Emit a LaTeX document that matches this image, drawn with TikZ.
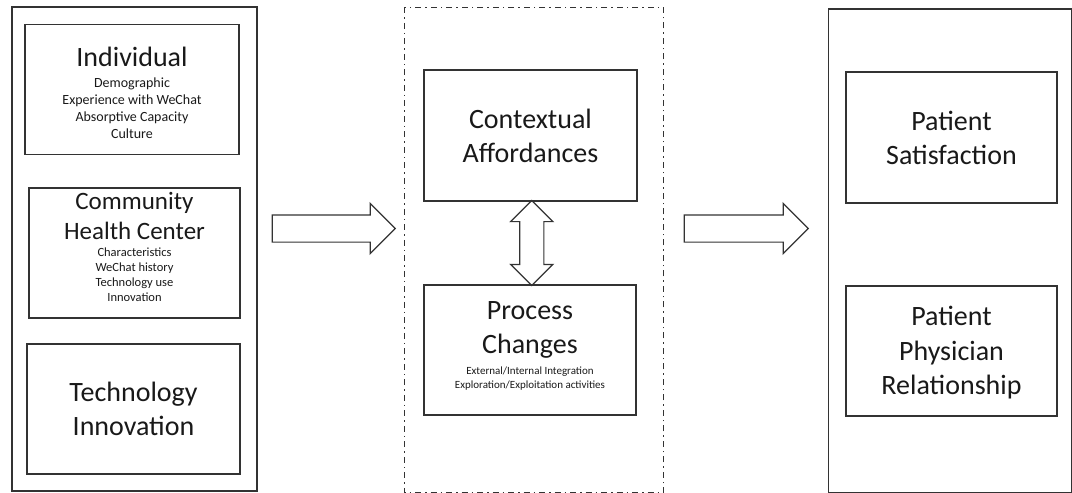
\documentclass[tikz,border=0pt]{standalone}
\usepackage{fontspec}
\setmainfont{Carlito}
\usetikzlibrary{shapes.arrows,calc}
\definecolor{ink}{gray}{0.2}
\newcommand{\bigtxt}{\fontsize{28}{34}\selectfont}
\begin{document}
\begin{tikzpicture}[x=1pt,y=-1pt,
  frame/.style={draw=ink,line width=1.3pt,minimum width=#1,minimum height=484pt},
  box/.style={draw=ink,line width=1.3pt,minimum width=#1,minimum height=130pt,
    text width=#1-8pt,align=flush center,inner sep=0pt,font=\bigtxt,text=black!90},
  box/.default=212pt,
  fat/.style={single arrow,draw=ink,line width=1.2pt,inner sep=0pt,text height=26pt,
    text depth=0pt,minimum height=123pt,single arrow head extend=11.5pt,
    single arrow head indent=0pt}]
\useasboundingbox (0,0) rectangle (1072,493);
\node [frame=245pt] (left) at (134.5,249) {};
\node [frame=258pt,draw=none] (mid) at (534,250) {};
\draw [ink,line width=1pt,dash pattern=on 6pt off 4pt on 1.5pt off 4pt]
  (mid.north west) rectangle (mid.south east);
\node [frame=243pt] (right) at (950,251) {};
\node [box=214pt] (ind) at (132,89.5) {\rule{0pt}{27pt}Individual\par\vspace{4pt}
  {\fontsize{14}{17}\selectfont Demographic\\Experience with WeChat\\Absorptive Capacity\\Culture\par}};
\node [box=211pt] (chc) at (134.5,253) {{\fontsize{25}{30}\selectfont Community\\Health Center\par}
  \vspace{2pt}{\fontsize{12.5}{14.8}\selectfont Characteristics\\WeChat history\\Technology use\\Innovation\par}
  \vspace{12pt}};
\node [box=213pt] (tech) at (133.5,409) {Technology\\Innovation};
\node [box=213pt,minimum height=131pt] (ctx) at (530.5,135.5) {Contextual\\Affordances};
\node [box] (proc) at (530,350) {Process\\Changes\par\vspace{6pt}
  {\fontsize{11}{14.5}\selectfont External/Internal Integration\\Exploration/Exploitation activities\par}
  \vspace{8pt}};
\node [box=211pt,minimum height=131pt] (sat) at (951.5,137.5) {Patient\\Satisfaction};
\node [box=211pt] (ppr) at (951.5,351) {\fontsize{28}{34.5}\selectfont
  \rule{0pt}{23pt}Patient\\Physician\\Relationship};
\node [fat] (a1) at (327,228.5) {};
\node [fat,minimum height=124pt] (a2) at (739.5,228.5) {};
\node [double arrow,draw=ink,line width=1.2pt,inner sep=0pt,rotate=90,text height=23pt,
  text depth=0pt,minimum height=85pt,double arrow head extend=9pt,
  double arrow head indent=0pt] (a3) at ($(ctx.south)!.5!(proc.north)+(1.5,0)$) {};
\end{tikzpicture}
\end{document}
